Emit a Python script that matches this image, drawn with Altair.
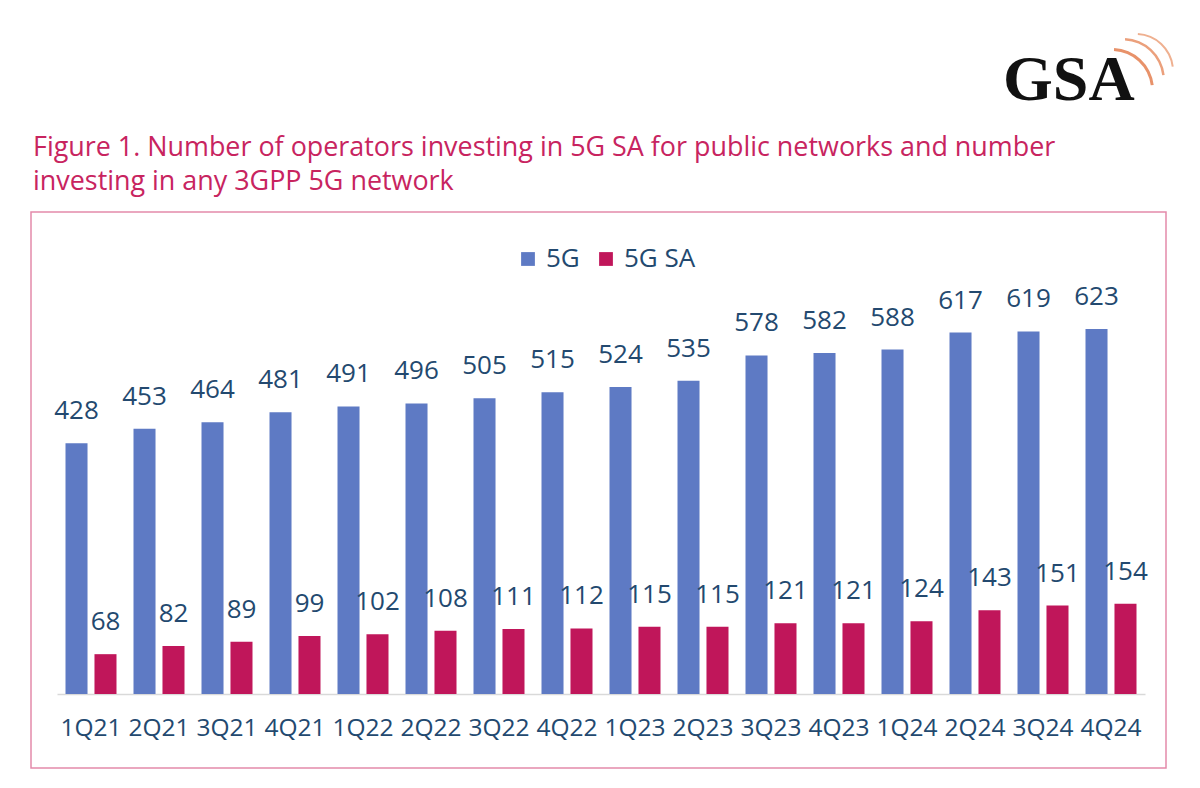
import altair as alt
import pandas as pd

# Quarters and operator counts
quarters = ["1Q21", "2Q21", "3Q21", "4Q21", "1Q22", "2Q22", "3Q22", "4Q22",
            "1Q23", "2Q23", "3Q23", "4Q23", "1Q24", "2Q24", "3Q24", "4Q24"]
ops_5g = [428, 453, 464, 481, 491, 496, 505, 515, 524, 535, 578, 582, 588, 617, 619, 623]
ops_5g_sa = [68, 82, 89, 99, 102, 108, 111, 112, 115, 115, 121, 121, 124, 143, 151, 154]
series = ["5G", "5G SA"]

title_lines = [
    "Figure 1. Number of operators investing in 5G SA for public networks and number",
    "investing in any 3GPP 5G network",
]
logo_text = "GSA"

BLUE = "#5E7AC4"
RED = "#C0165A"
TEXT = "#23496F"
PINK = "#C8245F"
FONT = "Open Sans"

rows = []
for q, a, b in zip(quarters, ops_5g, ops_5g_sa):
    rows.append({"quarter": q, "series": series[0], "value": a})
    rows.append({"quarter": q, "series": series[1], "value": b})
df = pd.DataFrame(rows)

x_enc = alt.X("quarter:N", sort=quarters, title=None,
              scale=alt.Scale(paddingInner=0.25, paddingOuter=0.125),
              axis=alt.Axis(labelAngle=0, labelFontSize=24.5, labelFont=FONT,
                            labelColor=TEXT, ticks=False, domainColor="#D9D9D9",
                            domainWidth=1.5, labelPadding=22, grid=False))
xo_enc = alt.XOffset("series:N", sort=series,
                     scale=alt.Scale(paddingInner=0.24, paddingOuter=0))
y_enc = alt.Y("value:Q", scale=alt.Scale(domain=[0, 700], nice=False), axis=None)

base = alt.Chart(df)

bars = base.mark_bar().encode(
    x=x_enc, xOffset=xo_enc, y=y_enc,
    color=alt.Color("series:N", sort=series,
                    scale=alt.Scale(domain=series, range=[BLUE, RED]),
                    legend=alt.Legend(orient="none", legendX=458, legendY=-38,
                                      direction="horizontal", title=None,
                                      symbolType="square", symbolSize=190,
                                      symbolStrokeWidth=0,
                                      labelFontSize=26, labelFont=FONT,
                                      labelColor=TEXT, columnPadding=13,
                                      labelOffset=5)),
)

labels = base.mark_text(fontSize=26, font=FONT, color=TEXT, baseline="middle",
                        dy=-32).encode(
    x=x_enc, xOffset=xo_enc, y=y_enc, text="value:Q",
)


one = pd.DataFrame({"k": [0]})

frame = alt.Chart(one).mark_rect(fill=None, stroke="#E48AAB", strokeWidth=1.5).encode(
    x=alt.value(-26), x2=alt.value(1109), y=alt.value(-72), y2=alt.value(484),
)

# Two-line heading drawn as one text block
title = alt.Chart(one).mark_text(
    align="left", baseline="alphabetic", fontSize=26.9, font=FONT, color=PINK,
    text=title_lines, lineHeight=34,
).encode(x=alt.value(-24), y=alt.value(-128))

logo = alt.Chart(pd.DataFrame({"t": [logo_text]})).mark_text(
    align="left", baseline="alphabetic", fontSize=64, font="Liberation Serif",
    fontWeight="bold", color="#111111"
).encode(text="t:N", x=alt.value(946), y=alt.value(-184))

# Signal arcs of the logo
arc_inner = alt.Chart(one).mark_arc(radius=42, radius2=39, theta=0.05, theta2=1.45,
                                    color="#E8926A").encode(
    x=alt.value(1112 - 57), y=alt.value(90 - 284))
arc_mid = alt.Chart(one).mark_arc(radius=42, radius2=39.5, theta=0.05, theta2=1.45,
                                  color="#EBA07C").encode(
    x=alt.value(1123 - 57), y=alt.value(80 - 284))
arc_outer = alt.Chart(one).mark_arc(radius=38, radius2=36, theta=0.05, theta2=1.45,
                                    color="#EFB090").encode(
    x=alt.value(1136 - 57), y=alt.value(71 - 284))

chart = alt.layer(
    frame, bars, labels, title, logo, arc_inner, arc_mid, arc_outer
).properties(
    width=1088, height=410,
    padding={"left": 57, "top": 284, "right": 55, "bottom": 94},
    autosize="none",
    background="white",
).configure_view(stroke=None)

chart.save("out.html", embed_options={"renderer": "svg", "actions": False})
